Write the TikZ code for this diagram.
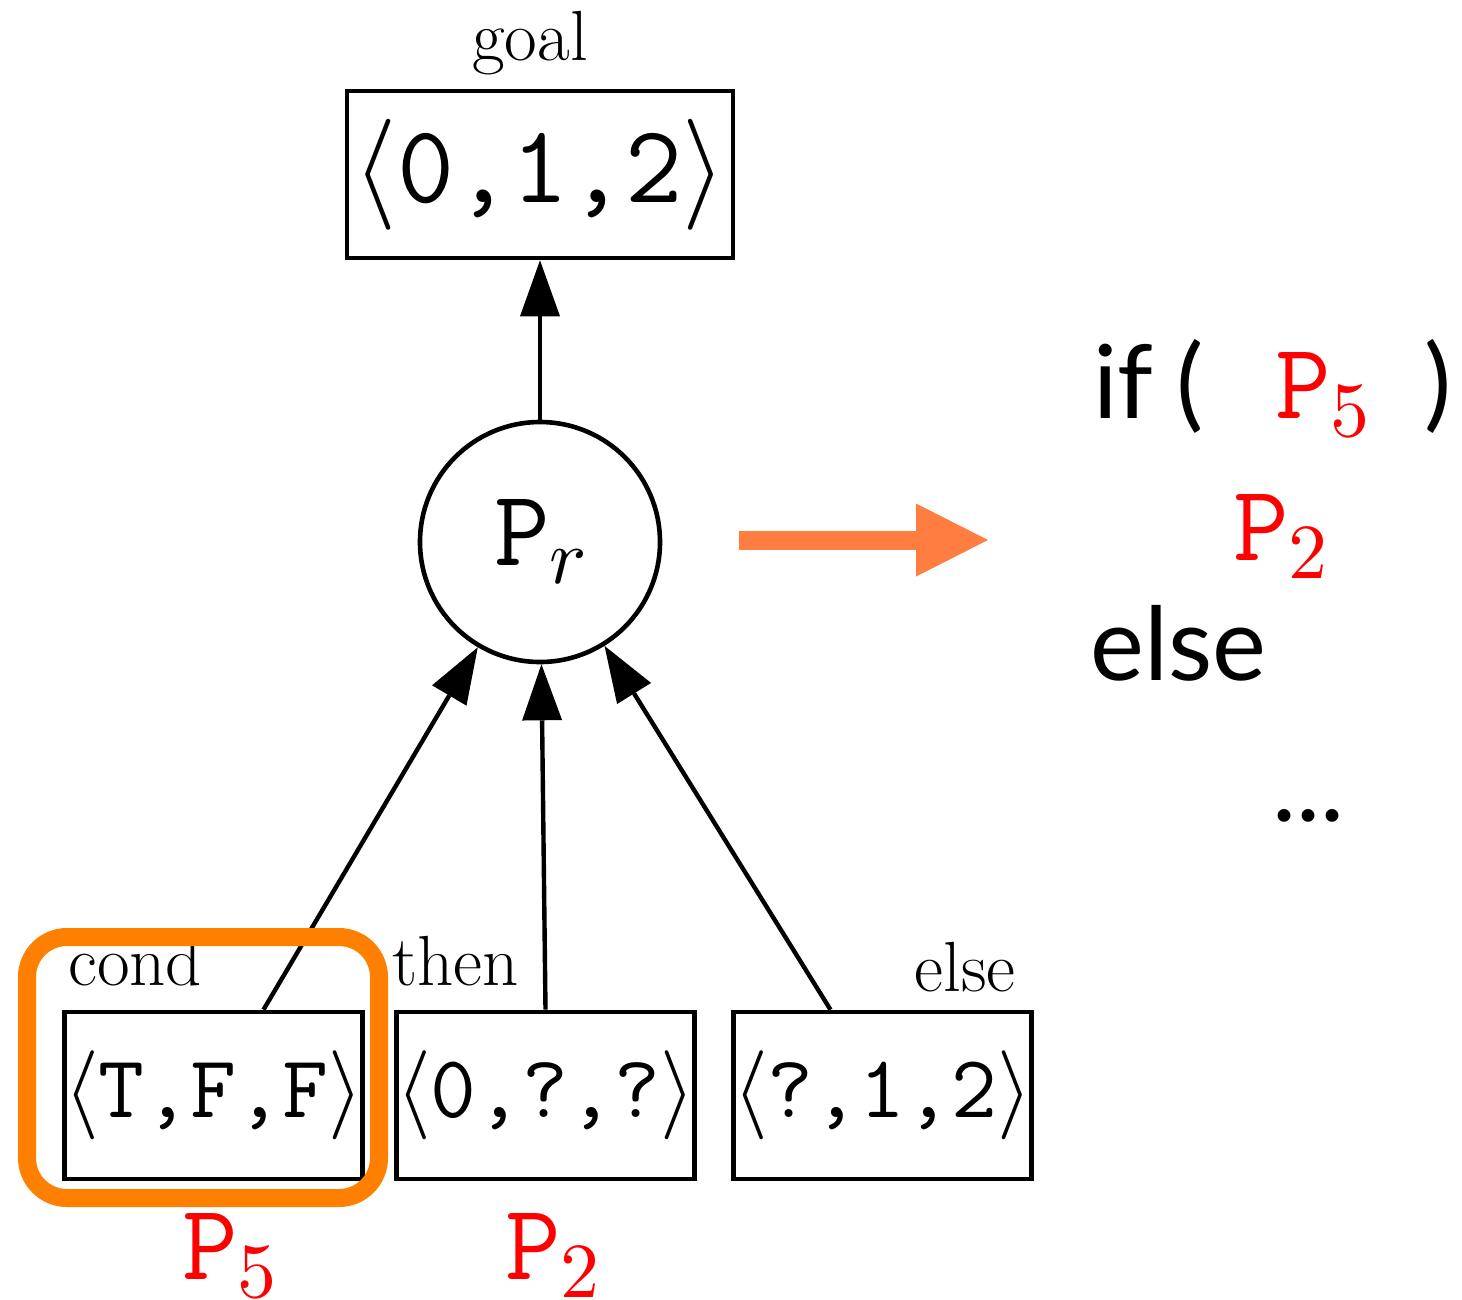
\documentclass[tikz,border=0pt]{standalone}
\usepackage{fontspec}
\usepackage{unicode-math}
\setmathfont{Latin Modern Math}
\newfontfamily\sansfam{Lato}
\usetikzlibrary{arrows.meta}
\definecolor{ringorange}{RGB}{255,128,0}
\definecolor{arroworange}{RGB}{255,125,64}
\definecolor{pred}{RGB}{255,0,0}
\newcommand\fsBig{\fontsize{108}{120}\selectfont}
\newcommand\fsGoal{\fontsize{111}{120}\selectfont}
\newcommand\fsBox{\fontsize{89}{100}\selectfont}
\newcommand\fsLbl{\fontsize{71}{80}\selectfont}
\newcommand\fsSans{\sansfam\fontsize{102}{115}\selectfont}
\newcommand\fsSub{\fontsize{78}{80}\selectfont}
\newcommand\progP[1]{\texttt{P}\raisebox{-18pt}{\fsSub$#1$}}
\begin{document}
\begin{tikzpicture}[x=1pt,y=-1pt,
  valbox/.style={draw, line width=4.6pt, minimum width=297pt, minimum height=167pt, inner sep=0pt, font=\fsBox},
  lbl/.style={inner sep=0pt, font=\fsLbl},
  redlbl/.style={inner sep=0pt, font=\fsBig, text=pred},
  sanslbl/.style={inner sep=0pt, font=\fsSans},
  link/.style={line width=4.4pt, -{Triangle[length=56pt,width=40pt,line width=0pt]}}
]
\useasboundingbox (0,0) rectangle (1462,1299);

% top goal box
\node[draw, line width=4.6pt, minimum width=386pt, minimum height=167pt, inner sep=0pt, font=\fsGoal] (goal) at (540,174.5) {$\langle$\texttt{0,1,2}$\rangle$};
\node[lbl, anchor=base] (goallbl) at (530,60) {goal};

% root program node
\node[circle, draw, line width=4.6pt, minimum size=240pt, inner sep=0pt, font=\fsBig] (pr) at (540,542) {\progP{r}};

% bottom boxes
\node[valbox] (cond) at (213.5,1095.5) {$\langle$\texttt{T,F,F}$\rangle$};
\node[valbox] (then) at (545.5,1095.5) {$\langle$\texttt{0,?,?}$\rangle$};
\node[valbox] (else) at (882.5,1095.5) {$\langle$\texttt{?,1,2}$\rangle$};

\node[lbl, anchor=base west] (condlbl) at (68,985) {cond};
\node[lbl, anchor=base west] (thenlbl) at (392,985) {then};
\node[lbl, anchor=base east] (elselbl) at (1016,991) {else};

\node[redlbl, anchor=base west] (p5b) at (182,1279) {\progP{5}};
\node[redlbl, anchor=base west] (p2b) at (505,1279) {\progP{2}};

% connectors
\draw[link] (pr.north) -- (goal.south);
\draw[link] ([xshift=50pt]cond.north) -- (pr);
\draw[link] (then.north) -- (pr);
\draw[link] ([xshift=-52pt]else.north) -- (pr);

% orange highlight ring
\node[draw=ringorange, line width=18pt, rounded corners=40pt, minimum width=352pt, minimum height=261pt, inner sep=0pt] (ring) at (203,1067.5) {};

% orange arrow
\coordinate (arrs) at (739,540);
\coordinate (arre) at (988,540);
\draw[arroworange, line width=19pt, -{Triangle[length=72pt,width=73pt,line width=0pt]}] (arrs) -- (arre);

% code on the right
\node[sanslbl, anchor=base west] (ifkw) at (1093,418) {if};
\node[sanslbl, anchor=base west] (lpar) at (1176,418) {(};
\node[redlbl, anchor=base west] (p5r) at (1275,418) {\progP{5}};
\node[sanslbl, anchor=base west] (rpar) at (1424,418) {)};
\node[redlbl, anchor=base west] (p2r) at (1233,560) {\progP{2}};
\node[sanslbl, anchor=base west] (elsekw) at (1090,680) {else};
\node[sanslbl, anchor=base west] (dots) at (1272,821) {...};
\end{tikzpicture}
\end{document}
